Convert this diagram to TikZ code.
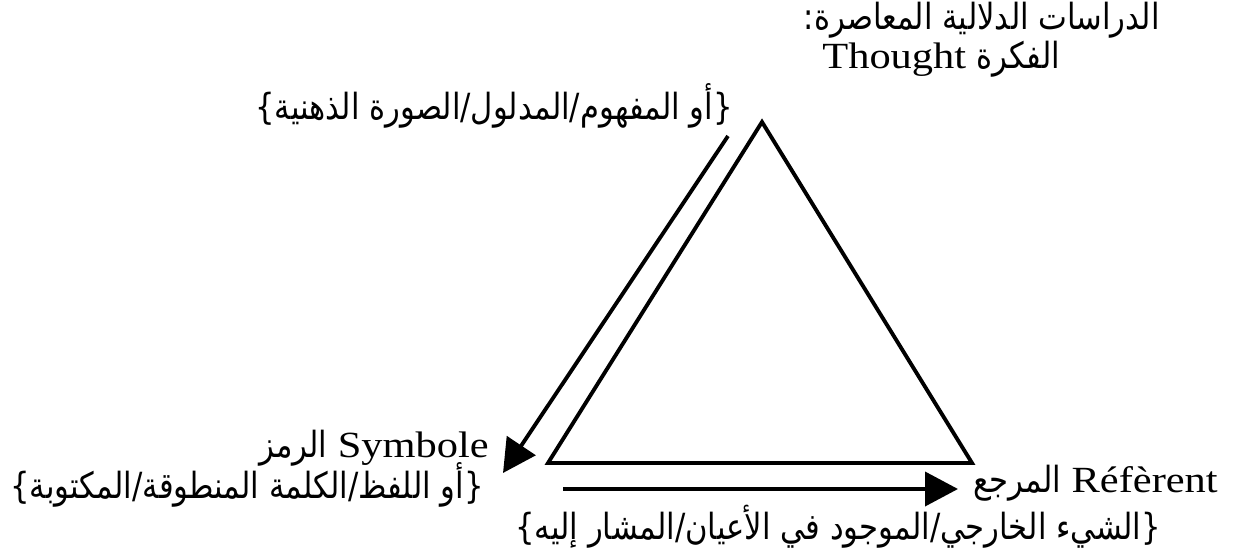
\documentclass[tikz,border=0pt]{standalone}
\usepackage{fontspec}
\setmainfont{Liberation Serif}[FakeStretch=1.15]
\newfontfamily\arabicfont[Script=Arabic,FakeStretch=0.85]{DejaVu Sans}
\TeXXeTstate=1
\usetikzlibrary{arrows.meta}
\newcommand{\artxt}[1]{{\arabicfont\fontsize{20.5}{22}\selectfont\beginR #1\endR}}
\tikzset{
  lbl/.style={inner sep=0pt, font=\fontsize{21}{24}\selectfont},
  semline/.style={line width=2.2pt, line join=miter},
  semarrow/.style={line width=2.2pt, -{Triangle[length=0.66cm,width=0.68cm]}}
}
\begin{document}
\begin{tikzpicture}
    \useasboundingbox (0,0) rectangle (24.84,-11.14);
    \coordinate (apex) at (15.24,-2.44);
    \coordinate (left) at (10.96,-9.26);
    \coordinate (right) at (19.44,-9.26);
    \draw[semline] (apex) -- (left) -- (right) -- cycle;
    \coordinate (thoughtend) at (14.56,-2.72);
    \coordinate (symboltip) at (10.06,-9.46);
    \draw[semarrow] (thoughtend) -- (symboltip);
    \coordinate (symbolend) at (11.26,-9.78);
    \coordinate (referenttip) at (19.16,-9.78);
    \draw[semarrow] (symbolend) -- (referenttip);
    \node[lbl, anchor=base east] (studies) at (23.2,-0.58)
      {\artxt{الدراسات الدلالية المعاصرة:}};
    \node[lbl, anchor=base west] (thought) at (16.44,-1.36)
      {Thought~\artxt{الفكرة}};
    \node[lbl, anchor=east] (thoughtnote) at (14.66,-2.12)
      {\artxt{\{أو المفهوم/المدلول/الصورة الذهنية\}}};
    \node[lbl, anchor=base east] (symbole) at (9.78,-9.14)
      {\artxt{الرمز}~Symbole};
    \node[lbl, anchor=west] (symbolnote) at (0.2,-9.70)
      {\artxt{\{أو اللفظ/الكلمة المنطوقة/المكتوبة\}}};
    \node[lbl, anchor=base west] (referent) at (19.46,-9.84)
      {\artxt{المرجع}~Réfèrent};
    \node[lbl, anchor=west] (referentnote) at (10.3,-10.54)
      {\artxt{\{الشيء الخارجي/الموجود في الأعيان/المشار إليه\}}};
\end{tikzpicture}
\end{document}
